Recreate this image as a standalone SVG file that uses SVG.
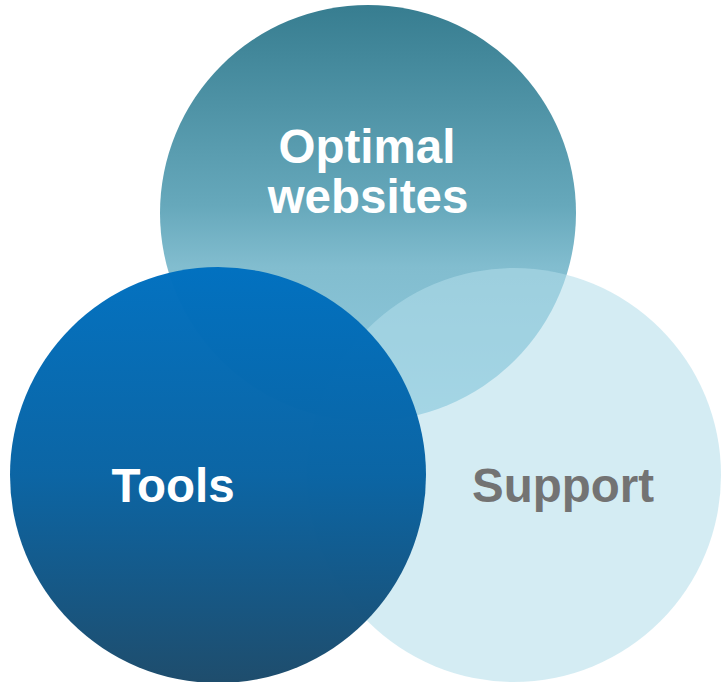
<svg xmlns="http://www.w3.org/2000/svg" width="721" height="682" viewBox="0 0 721 682">
<defs>
<linearGradient id="gTop" x1="0" y1="0" x2="0" y2="1">
<stop offset="0" stop-color="#377d90"/>
<stop offset="0.48" stop-color="#66a8bb"/>
<stop offset="0.63" stop-color="#82bdcf"/>
<stop offset="1" stop-color="#92cce0"/>
</linearGradient>
<linearGradient id="gTools" x1="0" y1="0" x2="0" y2="1">
<stop offset="0" stop-color="#0070c0"/>
<stop offset="0.5" stop-color="#0863a3"/>
<stop offset="1" stop-color="#1b4a6a"/>
</linearGradient>
<style>
.lbl{font-family:"Liberation Sans",Arial,sans-serif;font-weight:bold;font-size:47.5px;text-anchor:middle}
.w{fill:#ffffff}
.g{fill:#737373}
</style>
</defs>
<g id="node-optimal">
<circle cx="368" cy="213" r="208" fill="url(#gTop)"/>
</g>
<g id="node-support">
<circle cx="514" cy="475" r="207" fill="#b2dde9" fill-opacity="0.56"/>
</g>
<g id="node-tools">
<circle cx="218" cy="475" r="208" fill="url(#gTools)" fill-opacity="0.985"/>
</g>
<g id="labels">
<text class="lbl w" x="367" y="163">Optimal</text>
<text class="lbl w" x="368" y="213">websites</text>
<text class="lbl w" x="173" y="502">Tools</text>
<text class="lbl g" x="563" y="502">Support</text>
</g>
<g id="connectors"/>
</svg>
